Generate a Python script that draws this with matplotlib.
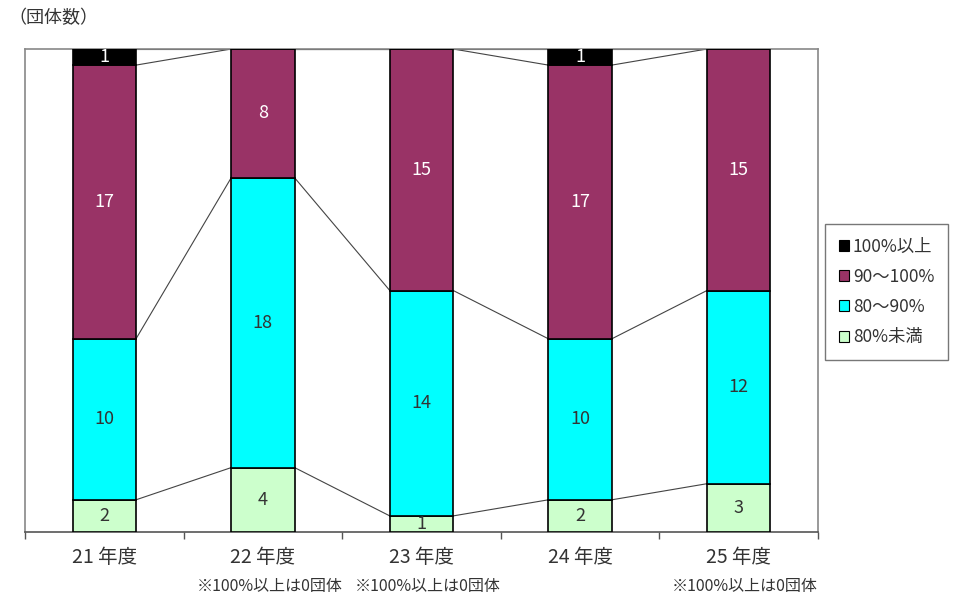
import matplotlib
matplotlib.use("Agg")
import matplotlib.pyplot as plt
from matplotlib.patches import Patch
import numpy as np

plt.rcParams['font.family'] = ['Noto Sans CJK JP', 'DejaVu Sans']

categories = ["21 年度", "22 年度", "23 年度", "24 年度", "25 年度"]
notes = ["", "※100%以上は0団体", "※100%以上は0団体", "", "※100%以上は0団体"]
series_names = ["80%未満", "80〜90%", "90〜100%", "100%以上"]
under80 = [2, 4, 1, 2, 3]
r80_90 = [10, 18, 14, 10, 12]
r90_100 = [17, 8, 15, 17, 15]
over100 = [1, 0, 0, 1, 0]

colors = ["#CCFFCC", "#00FFFF", "#993366", "#000000"]
text_colors = ["#333333", "#333333", "#FFFFFF", "#FFFFFF"]

fig = plt.figure(figsize=(9.65, 5.96), dpi=100)
ax = fig.add_axes([25/965, 1-532/596, (818-25)/965, (532-49)/596])

x = np.arange(len(categories))
w = 0.40
data = [under80, r80_90, r90_100, over100]
bottom = np.zeros(len(categories))
tops = []
for vals, c, tc in zip(data, colors, text_colors):
    vals = np.array(vals, dtype=float)
    ax.bar(x, vals, w, bottom=bottom, color=c, edgecolor="black", linewidth=1.2, zorder=3)
    for xi, v, b in zip(x, vals, bottom):
        if v > 0:
            ax.text(xi, b + v/2, f"{int(v)}", ha="center", va="center", fontsize=13,
                    color=tc, zorder=4)
    bottom = bottom + vals
    tops.append(bottom.copy())

# series lines
for t in tops:
    for i in range(len(categories)-1):
        ax.plot([x[i] + w/2, x[i+1] - w/2], [t[i], t[i+1]], color="#444444",
                linewidth=0.8, zorder=2)

ax.set_xlim(-0.5, len(categories) - 0.5)
ax.set_ylim(0, 30)
ax.set_yticks([])
ax.set_xticks(np.arange(-0.5, len(categories)), minor=False)
ax.set_xticklabels([])
ax.tick_params(axis='x', length=5, width=1, color="#555555", direction='out')
for sp in ["top", "left", "right"]:
    ax.spines[sp].set_color("#888888")
    ax.spines[sp].set_linewidth(1.2)
ax.spines["bottom"].set_color("#555555")
ax.spines["bottom"].set_linewidth(1.2)

for xi, lab, nt in zip(x, categories, notes):
    ax.text(xi, -0.052, lab, transform=ax.get_xaxis_transform(), ha="center", va="center",
            fontsize=14, color="#333333")
    if nt:
        ax.text(xi + 0.04, -0.112, nt, transform=ax.get_xaxis_transform(), ha="center",
                va="center", fontsize=11.5, color="#333333")

fig.text(8/965, 1-18/596, "（団体数）", ha="left", va="center", fontsize=13, color="#333333")

handles = [Patch(facecolor=c, edgecolor="black", linewidth=0.8) for c in colors[::-1]]
leg = fig.legend(handles, series_names[::-1], loc="center left",
                 bbox_to_anchor=(825/965, 1-292/596), frameon=True, fancybox=False,
                 fontsize=12.5, handlelength=0.6, handleheight=0.6, handletextpad=0.2,
                 labelspacing=0.7, borderpad=0.8, borderaxespad=0.0, labelcolor="#333333")
leg.get_frame().set_edgecolor("#555555")
leg.get_frame().set_linewidth(1.0)

fig.savefig("out.png", dpi=100)
